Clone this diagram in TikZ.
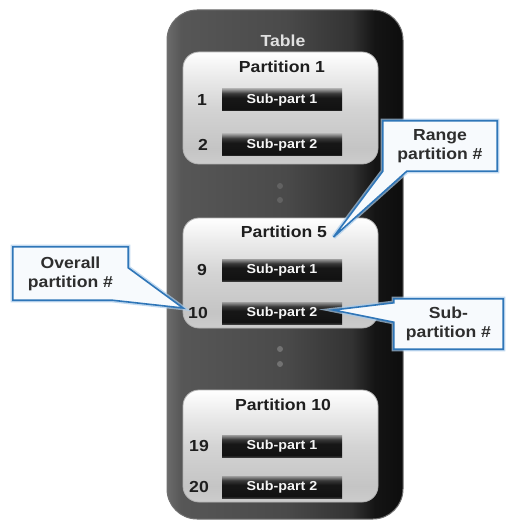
\documentclass[tikz,border=0pt]{standalone}
\usepackage{fontspec}
\setmainfont[FakeStretch=1.1]{Liberation Sans}
\usetikzlibrary{calc}

\definecolor{calloutblue}{HTML}{2F76B8}
\definecolor{calloutglow}{HTML}{A9CBEA}
\definecolor{calloutfill}{HTML}{F7FAFD}
\definecolor{boxedge}{HTML}{B4B4B4}
\definecolor{inktext}{HTML}{1E1E1E}
\definecolor{callouttextcol}{HTML}{2E2E2E}
\definecolor{dotgray}{HTML}{727272}
\definecolor{tablerim}{HTML}{707070}

% dark table body: grey on the left, black towards the right edge
\pgfdeclarehorizontalshading{tableshade}{100bp}{%
  color(0bp)=(black!58); color(25bp)=(black!58); color(28bp)=(black!66);
  color(50bp)=(black!71); color(64bp)=(black!80); color(69bp)=(black!92);
  color(75bp)=(black!95); color(100bp)=(black!95)}
% light partition panels
\pgfdeclareverticalshading{panelshade}{100bp}{%
  color(0bp)=(black!20); color(25bp)=(black!20); color(32bp)=(black!23);
  color(50bp)=(black!17); color(64bp)=(black!8); color(75bp)=(white);
  color(100bp)=(white)}
% black sub-partition bars with a soft top highlight
\pgfdeclareverticalshading{barshade}{100bp}{%
  color(0bp)=(black!78); color(25bp)=(black!78); color(29bp)=(black!93);
  color(55bp)=(black!91); color(65bp)=(black!78); color(75bp)=(black!38);
  color(100bp)=(black!38)}

\tikzset{
  bigfont/.style={font=\bfseries\fontsize{16}{19}\selectfont},
  tablebox/.style={shading=tableshade, draw=tablerim, line width=1pt,
    rounded corners=30pt, minimum width=236pt, minimum height=509pt,
    inner sep=0pt},
  tabletitle/.style={bigfont, text=black!12},
  partbox/.style={shading=panelshade, draw=boxedge, line width=.8pt,
    rounded corners=16pt, minimum width=195pt, inner sep=0pt},
  parttitle/.style={bigfont, text=inktext},
  subbar/.style={shading=barshade, minimum width=120pt, minimum height=22pt,
    inner sep=0pt, text=black!4,
    font=\bfseries\fontsize{13}{15}\selectfont},
  num/.style={bigfont, text=inktext, anchor=east, inner sep=0pt},
  calloutframe/.style={fill=calloutfill, draw=calloutblue, line width=1.6pt,
    line join=miter,
    preaction={draw=calloutglow, line width=4.5pt, opacity=.7}},
  calloutbox/.style={minimum width=#1, inner sep=0pt},
  callouttext/.style={bigfont, text=callouttextcol, align=center},
  dot/.style={fill=dotgray},
}

\begin{document}
\begin{tikzpicture}[x=1pt, y=-1pt]
\useasboundingbox (0,0) rectangle (505,521);

% table body
\node[tablebox] (table) at (285,264.5) {};
\node[tabletitle] (tabletitle) at (283,41) {Table};

% partition 1
\node[partbox, minimum height=112pt] (p1) at (280.5,108) {};
\node[parttitle] (p1t) at (282,67) {Partition 1};
\node[subbar] (b11) at (282,100) {Sub-part 1};
\node[subbar] (b12) at (282,145) {Sub-part 2};
\node[num] (n1) at (207,100) {1};
\node[num] (n2) at (208,145) {2};

% partition 5
\node[partbox, minimum height=110pt] (p5) at (280.5,273) {};
\node[parttitle] (p5t) at (284,232) {Partition 5};
\node[subbar] (b51) at (282,270) {Sub-part 1};
\node[subbar] (b52) at (282,313) {Sub-part 2};
\node[num] (n9) at (207,270) {9};
\node[num] (n10) at (208,313) {10};

% partition 10
\node[partbox, minimum height=112pt] (p10) at (280.5,446) {};
\node[parttitle] (p10t) at (283,405) {Partition 10};
\node[subbar] (b101) at (282,446) {Sub-part 1};
\node[subbar] (b102) at (282,487) {Sub-part 2};
\node[num] (n19) at (209,446) {19};
\node[num] (n20) at (209,487) {20};

% ellipsis dots between the partitions
\fill[dot, opacity=.6] (280,186) circle (3pt);
\fill[dot, opacity=.6] (280,200) circle (3pt);
\fill[dot] (280,349) circle (3pt);
\fill[dot] (280,364) circle (3pt);

% callout: range partition number
\node[calloutbox=114pt, minimum height=50pt] (rng) at (440,146) {};
\coordinate (rngtip) at ($(p5t.east)+(3,5)$);
\draw[calloutframe] (rng.north west) -- (rng.north east) -- (rng.south east)
  -- ($(rng.south west)+(24,0)$) -- (rngtip) -- (rng.south west) -- cycle;
\node[callouttext] (rngtxt) at (rng) {Range\\partition \#};

% callout: overall partition number
\node[calloutbox=115pt, minimum height=53pt] (ovr) at (70.5,273.5) {};
\coordinate (ovrtip) at ($(n10.west)+(-5,-5)$);
\draw[calloutframe] (ovr.north west) -- (ovr.north east)
  -- ($(ovr.north east)+(0,21)$) -- (ovrtip)
  -- ($(ovr.south east)+(-16,0)$) -- (ovr.south west) -- cycle;
\node[callouttext] (ovrtxt) at (ovr) {Overall\\partition \#};

% callout: sub-partition number
\node[calloutbox=109pt, minimum height=50pt] (sub) at (448.5,324) {};
\coordinate (subtip) at ($(b52.east)+(-9,-3)$);
\draw[calloutframe] (sub.north west) -- (sub.north east) -- (sub.south east)
  -- (sub.south west) -- ($(sub.south west)+(0,-27)$) -- (subtip)
  -- ($(sub.north west)+(0,4)$) -- cycle;
\node[callouttext] (subtxt) at (sub) {Sub-\\partition \#};
\end{tikzpicture}
\end{document}
